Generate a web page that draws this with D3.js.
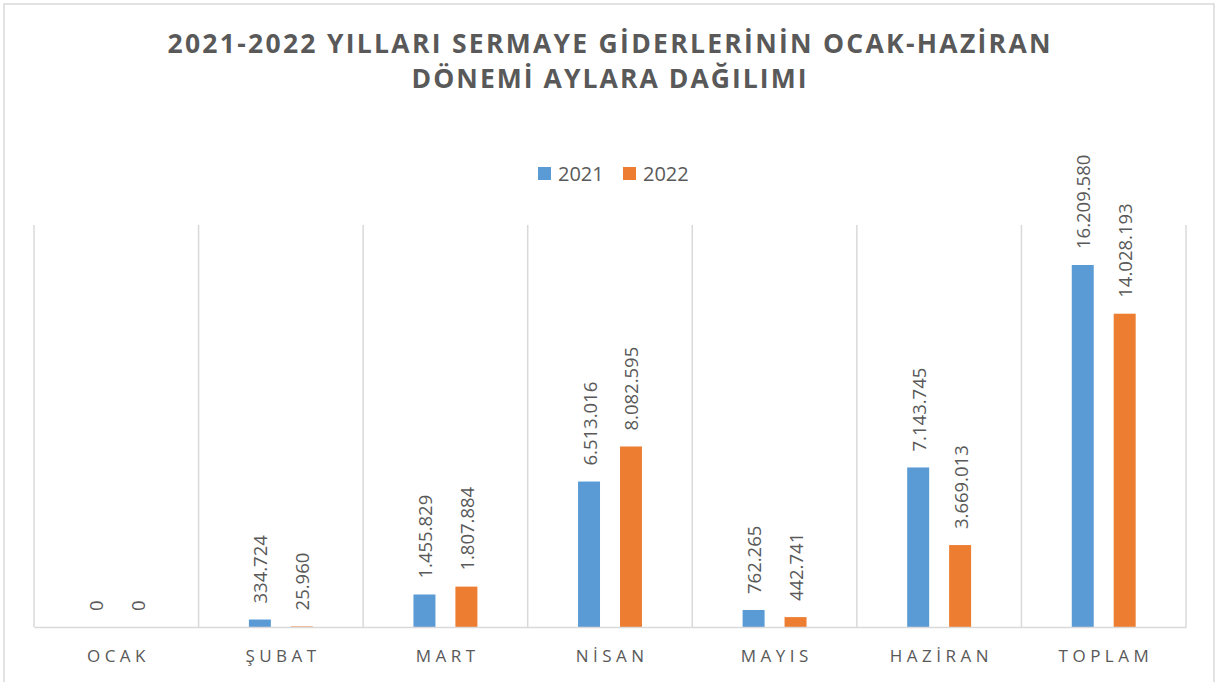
<!DOCTYPE html>
<html>
<head>
<meta charset="utf-8">
<script src="https://cdn.jsdelivr.net/npm/d3@7"></script>
<style>
  body { margin: 0; background: #fff; }
  svg text { font-family: "Open Sans", "DejaVu Sans", sans-serif; }
</style>
</head>
<body>
<div id="chart"></div>
<script>
// data
const months = ['OCAK', 'ŞUBAT', 'MART', 'NİSAN', 'MAYIS', 'HAZİRAN', 'TOPLAM'];
const series = ['2021', '2022'];
const values2021 = [0, 334724, 1455829, 6513016, 762265, 7143745, 16209580];
const values2022 = [0, 25960, 1807884, 8082595, 442741, 3669013, 14028193];
const colors = ['#5B9BD5', '#ED7D31'];
const titleLines = ['2021-2022 YILLARI SERMAYE GİDERLERİNİN OCAK-HAZİRAN', 'DÖNEMİ AYLARA DAĞILIMI'];

const width = 1219, height = 682;
const grid = '#d9d9d9', textColor = '#595959';

const trLocale = d3.formatLocale({ decimal: ',', thousands: '.', grouping: [3], currency: ['', ' TL'] });
const fmt = trLocale.format(',.0f');

const svg = d3.select('#chart').append('svg')
  .attr('width', width)
  .attr('height', height);

// chart border
svg.append('rect')
  .attr('x', 4).attr('y', 4)
  .attr('width', 1210).attr('height', 700)
  .attr('fill', '#fff')
  .attr('stroke', grid)
  .attr('stroke-width', 1.5);

// title
svg.append('g').selectAll('text')
  .data(titleLines)
  .enter().append('text')
  .attr('x', 609)
  .attr('y', (d, i) => 53 + i * 35)
  .attr('text-anchor', 'middle')
  .attr('font-size', 26.5)
  .attr('font-weight', 'bold')
  .attr('fill', textColor)
  .attr('textLength', (d, i) => i === 0 ? 883 : 395)
  .attr('lengthAdjust', 'spacing')
  .text(d => d);

// legend
const legend = svg.append('g').attr('transform', 'translate(538,167)');
const li = legend.selectAll('g').data(series).enter().append('g')
  .attr('transform', (d, i) => `translate(${i * 85},0)`);
li.append('rect').attr('width', 13).attr('height', 13).attr('fill', (d, i) => colors[i]);
li.append('text')
  .attr('x', 20).attr('y', 13.5)
  .attr('font-size', 20)
  .attr('fill', textColor)
  .text(d => d);

// plot
const plot = { left: 34, right: 1186, top: 225, bottom: 627 };

const x0 = d3.scaleBand().domain(months).range([plot.left, plot.right]);
const x1 = d3.scaleBand().domain(series).range([0, x0.bandwidth()])
  .paddingInner(0.476).paddingOuter(1.2);
const y = d3.scaleLinear().domain([0, 18000000]).range([plot.bottom, plot.top]);

// vertical gridlines between categories
const bounds = months.map(m => x0(m)).concat([plot.right]);
svg.append('g').selectAll('line')
  .data(bounds)
  .enter().append('line')
  .attr('x1', d => d).attr('x2', d => d)
  .attr('y1', plot.top).attr('y2', plot.bottom)
  .attr('stroke', grid)
  .attr('stroke-width', 1.5);

const rows = months.map((m, i) => ({ month: m, vals: [values2021[i], values2022[i]] }));

const groups = svg.append('g').selectAll('g')
  .data(rows)
  .enter().append('g')
  .attr('transform', d => `translate(${x0(d.month)},0)`);

groups.selectAll('rect')
  .data(d => d.vals.map((v, i) => ({ key: series[i], v: v, i: i })))
  .enter().append('rect')
  .attr('x', d => x1(d.key))
  .attr('y', d => y(d.v))
  .attr('width', x1.bandwidth())
  .attr('height', d => y(0) - y(d.v))
  .attr('fill', d => colors[d.i]);

// data labels, rotated
groups.selectAll('text.val')
  .data(d => d.vals.map((v, i) => ({ key: series[i], v: v })))
  .enter().append('text')
  .attr('class', 'val')
  .attr('transform', d => `translate(${x1(d.key) + x1.bandwidth() / 2},${y(d.v) - 16}) rotate(-90)`)
  .attr('dominant-baseline', 'central')
  .attr('font-size', 18.5)
  .attr('fill', textColor)
  .text(d => fmt(d.v));

// x axis
const xAxis = svg.append('g')
  .attr('transform', `translate(0,${plot.bottom})`)
  .call(d3.axisBottom(x0).tickSize(0).tickPadding(0));
xAxis.select('.domain')
  .attr('stroke', grid)
  .attr('stroke-width', 1.5);
xAxis.selectAll('.tick text')
  .attr('y', 35)
  .attr('dy', 0)
  .attr('dx', 2.2)
  .attr('font-size', 17)
  .attr('letter-spacing', 4.5)
  .attr('fill', textColor)
  .style('font-family', '"Open Sans", sans-serif');
</script>
</body>
</html>
